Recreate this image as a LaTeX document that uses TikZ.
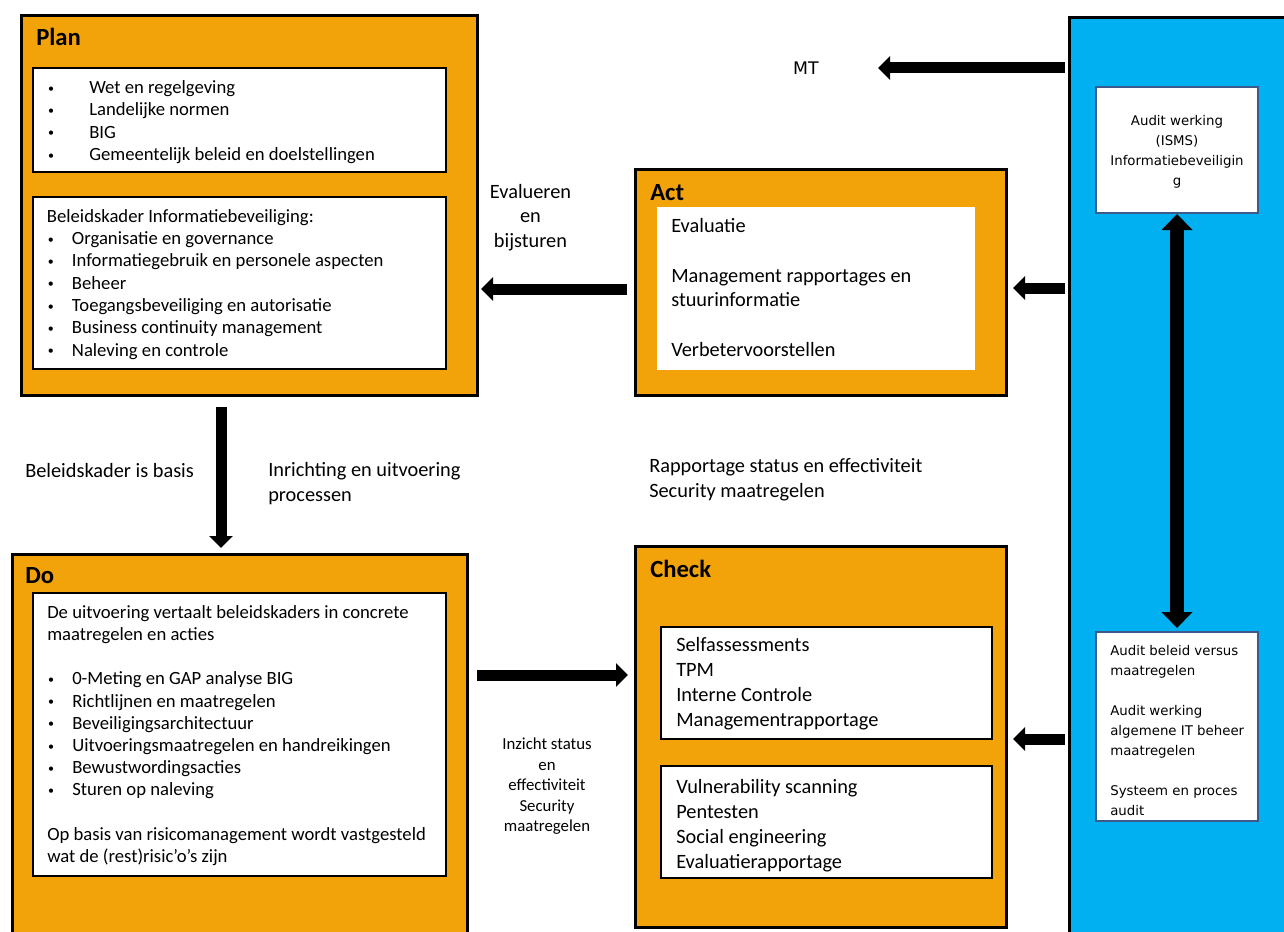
\documentclass[tikz,border=0pt]{standalone}
\usepackage{fontspec}
\setmainfont{Carlito}
\newfontfamily\vfont{DejaVu Sans}
\usetikzlibrary{arrows.meta,fit}
\definecolor{orng}{RGB}{241,163,9}
\definecolor{sky}{RGB}{0,176,240}
\definecolor{edgeblue}{RGB}{60,90,140}
\newcommand{\fs}[2]{\fontsize{#1}{#2}\selectfont}
\newcommand{\fst}{\rule{0pt}{1em}}
\newcommand{\bl}[1]{\makebox[#1][l]{\hspace{0.6pt}\raisebox{1pt}{\fontsize{9}{9}\selectfont•}}}
\begin{document}
\begin{tikzpicture}[x=0.75pt,y=-0.75pt,
  orangebox/.style={draw=black, line width=2.25pt, fill=orng, inner sep=0pt},
  whitebox/.style={draw=black, line width=1.1pt, fill=white, inner sep=0pt},
  plainwhite/.style={fill=white, inner sep=0pt},
  bluebox/.style={draw=edgeblue, line width=1.5pt, fill=white, inner sep=0pt},
  panel/.style={draw=black, line width=2.25pt, fill=sky, inner sep=0pt},
  txt/.style={anchor=north west, inner sep=0pt, align=left},
  ctxt/.style={anchor=north, inner sep=0pt, align=center},
  ttl/.style={anchor=base west, inner sep=0pt, font=\fs{18.5}{22}\bfseries},
  bigarrow/.style={line width=8.25pt, -{Triangle[width=17.25pt,length=9pt]}},
  dblarrow/.style={line width=10.5pt, {Triangle[width=22.5pt,length=12pt]}-{Triangle[width=22.5pt,length=12pt]}},
]
\path[use as bounding box] (0,0) rectangle (1284,931);
\clip (0,0) rectangle (1284,931);

% main boxes
\node[orangebox, fit={(21.5,15.5) (477,395)}] (plan) {};
\node[orangebox, fit={(635.5,169.5) (1006.5,395.5)}] (act) {};
\node[orangebox, fit={(12.5,554.5) (467.5,960)}] (do) {};
\node[orangebox, fit={(635.5,546.5) (1006.5,927.5)}] (check) {};
\node[panel, fit={(1069.5,17.5) (1320,960)}] (blue) {};

% inner boxes
\node[whitebox, fit={(33,68) (446,172)}] (planA) {};
\node[whitebox, fit={(33,197) (446,369)}] (planB) {};
\node[plainwhite, fit={(657,207) (975,370)}] (actA) {};
\node[whitebox, fit={(33,593) (446,876)}] (doA) {};
\node[whitebox, fit={(661,627) (992,739)}] (checkA) {};
\node[whitebox, fit={(661,766) (992,878)}] (checkB) {};
\node[bluebox, fit={(1096,87) (1258,213)}] (audA) {};
\node[bluebox, fit={(1096,632) (1258,821)}] (audB) {};

% titles
\node[ttl] (plantitle) at (36,46) {Plan};
\node[ttl] (acttitle) at (650,200.7) {Act};
\node[ttl] (dotitle) at (25,583) {Do};
\node[ttl] (checktitle) at (650,577) {Check};

% box texts
\node[txt, font=\fs{14}{16.65}] (planAtxt) at (47,74.8) {\fst\bl{31.5pt}Wet en regelgeving\\\bl{31.5pt}Landelijke normen\\\bl{31.5pt}BIG\\\bl{31.5pt}Gemeentelijk beleid en doelstellingen};
\node[txt, font=\fs{14}{16.75}] (planBtxt) at (46.7,203.3) {\fst Beleidskader Informatiebeveiliging:\\\bl{18.75pt}Organisatie en governance\\\bl{18.75pt}Informatiegebruik en personele aspecten\\\bl{18.75pt}Beheer\\\bl{18.75pt}Toegangsbeveiliging en autorisatie\\\bl{18.75pt}Business continuity management\\\bl{18.75pt}Naleving en controle};
\node[txt, font=\fs{14}{16.65}] (doAtxt) at (47,599.3) {\fst De uitvoering vertaalt beleidskaders in concrete\\maatregelen en acties\\\mbox{}\\\bl{18.75pt}0-Meting en GAP analyse BIG\\\bl{18.75pt}Richtlijnen en maatregelen\\\bl{18.75pt}Beveiligingsarchitectuur\\\bl{18.75pt}Uitvoeringsmaatregelen en handreikingen\\\bl{18.75pt}Bewustwordingsacties\\\bl{18.75pt}Sturen op naleving\\\mbox{}\\Op basis van risicomanagement wordt vastgesteld\\wat de (rest)risic’o’s zijn};
\node[txt, font=\fs{15.25}{18.5}] (actAtxt) at (671,212.2) {\fst Evaluatie\\\mbox{}\\Management rapportages en\\stuurinformatie\\\mbox{}\\Verbetervoorstellen};
\node[txt, font=\fs{15.25}{18.75}] (checkAtxt) at (676,631.2) {\fst Selfassessments\\TPM\\Interne Controle\\Managementrapportage};
\node[txt, font=\fs{15.25}{18.75}] (checkBtxt) at (676,773.2) {\fst Vulnerability scanning\\Pentesten\\Social engineering\\Evaluatierapportage};
\node[ctxt, font=\vfont\fs{10}{15}] (audAtxt) at (1177,111.6) {\fst Audit werking\\(ISMS)\\Informatiebeveiligin\\g};
\node[txt, font=\vfont\fs{10}{15}] (audBtxt) at (1110,641.6) {\fst Audit beleid versus\\maatregelen\\\mbox{}\\Audit werking\\algemene IT beheer\\maatregelen\\\mbox{}\\Systeem en proces\\audit};

% free labels
\node[ctxt, font=\fs{15.25}{18.4}] (evallbl) at (530.5,177.7) {\fst Evalueren\\en\\bijsturen};
\node[anchor=base west, inner sep=0pt, font=\fs{15.25}{18.4}] (basislbl) at (25,477.5) {Beleidskader is basis};
\node[txt, font=\fs{15.25}{18.4}] (inrlbl) at (268,456.2) {\fst Inrichting en uitvoering\\processen};
\node[txt, font=\fs{15.25}{18.75}] (raplbl) at (649,452.2) {\fst Rapportage status en effectiviteit\\Security maatregelen};
\node[ctxt, font=\fs{12.6}{15.4}] (inzlbl) at (547,732.6) {\fst Inzicht status\\en\\effectiviteit\\Security\\maatregelen};
\node[inner sep=0pt, font=\vfont\fs{13}{15}] (mt) at (806,68) {MT};

% arrow helpers
\coordinate (mttip) at (878,68);
\coordinate (yact) at (0,288);
\coordinate (ycheck) at (0,739);
\coordinate (yeval) at (0,289);
\coordinate (xdo) at (221,0);
\coordinate (ydo) at (0,675);
\coordinate (xaud) at (1177,0);

% arrows
\draw[bigarrow, shorten <=2.25pt] (blue.west |- mttip) -- (mttip);
\draw[bigarrow, shorten <=2.25pt, shorten >=3.75pt] (blue.west |- yact) -- (act.east |- yact);
\draw[bigarrow, shorten <=2.25pt, shorten >=3.75pt] (blue.west |- ycheck) -- (check.east |- ycheck);
\draw[bigarrow, shorten <=5.25pt, shorten >=1.9pt] (act.west |- yeval) -- (plan.east |- yeval);
\draw[bigarrow, shorten <=7.9pt, shorten >=3.75pt] (xdo |- plan.south) -- (xdo |- do.north);
\draw[bigarrow, shorten <=6pt, shorten >=4.5pt] (do.east |- ydo) -- (check.west |- ydo);
\draw[dblarrow, shorten >=2.25pt] (xaud |- audA.south) -- (xaud |- audB.north);
\end{tikzpicture}
\end{document}
